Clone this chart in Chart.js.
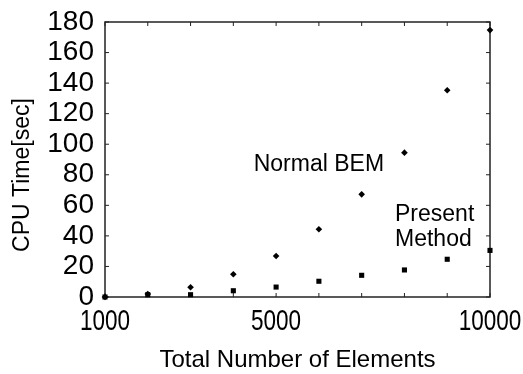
<!DOCTYPE html>
<html>
<head>
<meta charset="utf-8">
<script src="https://cdn.jsdelivr.net/npm/chart.js@4.4.1/dist/chart.umd.min.js"></script>
<style>
  html, body { margin: 0; padding: 0; background: #fff; }
</style>
</head>
<body>
<canvas id="cpuChart" width="523" height="374"></canvas>
<script>
// data
const elements = [1000, 2000, 3000, 4000, 5000, 6000, 7000, 8000, 9000, 10000];
const normalBem = [0, 2, 6.4, 14.9, 26.8, 44.3, 67.2, 94.5, 135.3, 174.7];
const presentMethod = [0, 1.5, 1.5, 4.1, 6.5, 10.3, 14.2, 17.7, 24.7, 30.5];
const xTickLabels = [1000, 5000, 10000];
const yMax = 180;
const yStep = 20;

const toPoints = (xs, ys) => xs.map((x, i) => ({ x: x, y: ys[i] }));

const axisColor = '#222';
const mainFont = '"Liberation Sans", Arial, Helvetica, sans-serif';

// box, inner ticks, x tick labels (squeezed like the original), titles and in-plot labels
const framePlugin = {
  id: 'frame',
  beforeDatasetsDraw(chart) {
    const { ctx, chartArea: a, scales } = chart;
    ctx.save();
    ctx.strokeStyle = axisColor;
    ctx.lineWidth = 1.5;
    ctx.strokeRect(a.left, a.top, a.right - a.left, a.bottom - a.top);
    ctx.lineWidth = 1;
    const len = 4;
    ctx.beginPath();
    elements.forEach(v => {
      const px = scales.x.getPixelForValue(v);
      ctx.moveTo(px, a.bottom); ctx.lineTo(px, a.bottom - len);
      ctx.moveTo(px, a.top); ctx.lineTo(px, a.top + len);
    });
    for (let v = 0; v <= yMax; v += yStep) {
      const py = scales.y.getPixelForValue(v);
      ctx.moveTo(a.left, py); ctx.lineTo(a.left + len, py);
      ctx.moveTo(a.right, py); ctx.lineTo(a.right - len, py);
    }
    ctx.stroke();
    ctx.restore();
  },
  afterDraw(chart) {
    const { ctx, chartArea: a, scales } = chart;
    ctx.save();
    ctx.fillStyle = '#000';
    ctx.textAlign = 'center';
    ctx.textBaseline = 'middle';

    // x tick labels
    ctx.font = '30px ' + mainFont;
    xTickLabels.forEach(v => {
      ctx.save();
      ctx.translate(scales.x.getPixelForValue(v), a.bottom + 25);
      ctx.scale(0.75, 1);
      ctx.fillText(String(v), 0, 0);
      ctx.restore();
    });

    // axis titles
    ctx.font = '24px ' + mainFont;
    ctx.fillText('Total Number of Elements', (a.left + a.right) / 2, 360);

    ctx.save();
    ctx.translate(23, 175);
    ctx.rotate(-Math.PI / 2);
    ctx.font = '23px ' + mainFont;
    ctx.fillText('CPU Time[sec]', 0, 0);
    ctx.restore();

    // series labels
    ctx.font = '23px ' + mainFont;
    ctx.fillText('Normal BEM', scales.x.getPixelForValue(6000), scales.y.getPixelForValue(86.4));
    ctx.textAlign = 'left';
    ctx.fillText('Present', scales.x.getPixelForValue(7780), scales.y.getPixelForValue(53.7));
    ctx.fillText('Method', scales.x.getPixelForValue(7780), scales.y.getPixelForValue(37.3));
    ctx.restore();
  }
};

new Chart(document.getElementById('cpuChart'), {
  type: 'scatter',
  data: {
    datasets: [
      {
        label: 'Normal BEM',
        data: toPoints(elements, normalBem),
        pointStyle: 'rectRot',
        radius: 3.3,
        backgroundColor: '#000',
        borderColor: '#000',
        borderWidth: 0,
        clip: false
      },
      {
        label: 'Present Method',
        data: toPoints(elements, presentMethod),
        pointStyle: 'rect',
        radius: 3.6,
        backgroundColor: '#000',
        borderColor: '#000',
        borderWidth: 0,
        clip: false
      }
    ]
  },
  options: {
    responsive: false,
    animation: false,
    layout: { padding: { top: 22, right: 33, left: 0, bottom: 0 } },
    plugins: {
      legend: { display: false },
      tooltip: { enabled: false }
    },
    scales: {
      x: {
        type: 'linear',
        min: 1000,
        max: 10000,
        afterFit: scale => {
          scale.height = 77;
          scale.paddingLeft = 0;
          scale.paddingRight = 0;
        },
        grid: { display: false, drawTicks: false },
        border: { display: false },
        ticks: { display: false }
      },
      y: {
        min: 0,
        max: yMax,
        afterFit: scale => {
          scale.width = 105;
          scale.paddingTop = 0;
          scale.paddingBottom = 0;
        },
        grid: { display: false, drawTicks: false },
        border: { display: false },
        ticks: {
          stepSize: yStep,
          autoSkip: false,
          color: '#000',
          padding: 11,
          callback: v => String(v),
          font: { family: mainFont, size: 28 }
        }
      }
    }
  },
  plugins: [framePlugin]
});
</script>
</body>
</html>
